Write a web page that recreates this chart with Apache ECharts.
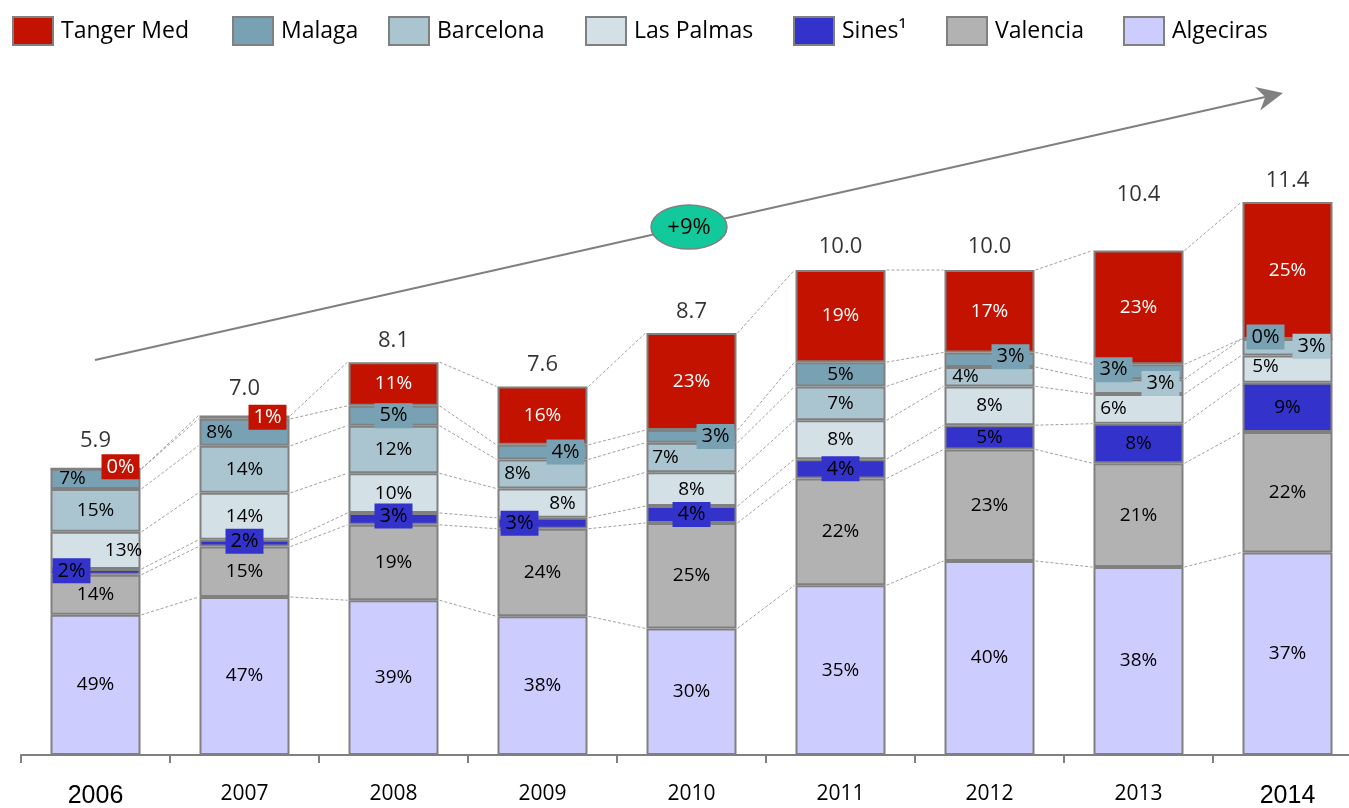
<!DOCTYPE html>
<html><head><meta charset="utf-8">
<script src="https://cdn.jsdelivr.net/npm/echarts@6/dist/echarts.min.js"></script>
<style>html,body{margin:0;padding:0;background:#fff}#c{width:1349px;height:808px}</style>
</head><body><div id="c"></div>
<script>
// ---- data ----
const years = ['2006','2007','2008','2009','2010','2011','2012','2013','2014'];
const totals = [5.9, 7.0, 8.1, 7.6, 8.7, 10.0, 10.0, 10.4, 11.4];
// share of each port in % (stack order bottom -> top)
const algeciras = [49, 47, 39, 38, 30, 35, 40, 38, 37];
const valencia  = [14, 15, 19, 24, 25, 22, 23, 21, 22];
const sines     = [2, 2, 3, 3, 4, 4, 5, 8, 9];
const lasPalmas = [13, 14, 10, 8, 8, 8, 8, 6, 5];
const barcelona = [15, 14, 12, 8, 7, 7, 4, 3, 3];
const malaga    = [7, 8, 5, 4, 3, 5, 3, 3, 0];
const tangerMed = [0, 1, 11, 16, 23, 19, 17, 23, 25];
const legendOrder = ['Tanger Med', 'Malaga', 'Barcelona', 'Las Palmas', 'Sines¹', 'Valencia', 'Algeciras'];
const cagrLabel = '+9%';

// ---- styling (not data) ----
const seriesDefs = [
  {name:'Algeciras',  data:algeciras, color:'#CCCCFF', text:'#000'},
  {name:'Valencia',   data:valencia,  color:'#B2B2B2', text:'#000'},
  {name:'Sines¹',     data:sines,     color:'#3333CC', text:'#000'},
  {name:'Las Palmas', data:lasPalmas, color:'#D3E0E6', text:'#000'},
  {name:'Barcelona',  data:barcelona, color:'#AAC5CF', text:'#000'},
  {name:'Malaga',     data:malaga,    color:'#78A2B4', text:'#000'},
  {name:'Tanger Med', data:tangerMed, color:'#C41200', text:'#fff'}
];
const legendLeft = [12, 232, 388, 585, 793, 946, 1123];
const totalLabelDy = [-7, -5, 0, 0, 0, -2, -2, -34, 0];
// label placement tweaks per series/year: [dx, dy, boxed]
const labelTweaks = {
  'Sines¹':     [[-24,-1,1],[0,-2,1],[0,-3,1],[-23,0,1],[0,0,1],[0,0,1],null,null,null],
  'Las Palmas': [[28,0,0],null,null,[20,0,0],null,null,null,[-25,0,0],[-22,-2,0]],
  'Barcelona':  [null,null,null,[-25,0,0],[-26,0,0],null,[-24,0,0],[22,-3,1],[24,-1,1]],
  'Malaga':     [[-23,0,0],[-25,0,0],[0,0,1],[23,0,1],[24,0,1],null,[21,-3,1],[-25,-2,1],[-22,-2,1]],
  'Tanger Med': [[25,-2,1],[23,0,1],null,null,null,null,null,null,null]
};
const BAR_W = 90;
const FONT = '"Open Sans", sans-serif';

const sums = years.map((_, i) => seriesDefs.reduce((s, d) => s + d.data[i], 0));
const absVal = (d, i) => totals[i] * d.data[i] / sums[i];

const barSeries = seriesDefs.map(def => ({
  name: def.name, type: 'bar', stack: 'all', barWidth: BAR_W,
  itemStyle: {color: def.color, borderColor: '#808080', borderWidth: 2},
  emphasis: {disabled: true},
  z: 3,
  data: def.data.map((p, i) => {
    const t = (labelTweaks[def.name] || [])[i];
    const label = {show: true, position: 'inside', formatter: p + '%',
      color: def.text, fontFamily: FONT, fontSize: 19};
    if (t) {
      label.offset = [t[0], t[1]];
      if (t[2]) { label.backgroundColor = def.color; label.padding = [3, 5, 2, 5]; label.fontSize = 20; }
    }
    return {value: absVal(def, i), label: label};
  })
}));

// connector data: boundaries between adjacent bars
const cum = years.map((_, i) => { let c = 0; return seriesDefs.map(d => (c += absVal(d, i))); });
const connData = [];
for (let i = 0; i < years.length - 1; i++)
  for (let k = 0; k < seriesDefs.length; k++) connData.push([i, cum[i][k], cum[i + 1][k]]);

const connectors = {
  type: 'custom', name: 'conn', z: 1, silent: true, data: connData,
  encode: {x: 0, y: 1},
  renderItem: (params, api) => {
    const a = api.coord([api.value(0), api.value(1)]);
    const b = api.coord([api.value(0) + 1, api.value(2)]);
    return {type: 'line', shape: {x1: a[0] + BAR_W / 2 + 1, y1: a[1], x2: b[0] - BAR_W / 2 - 1, y2: b[1]},
      style: {stroke: '#A0A0A0', lineWidth: 1, lineDash: [3, 2]}};
  }
};

const totalSeries = {
  type: 'scatter', name: 'total', symbolSize: 1, itemStyle: {color: 'transparent'}, silent: true, z: 5,
  data: totals.map((v, i) => ({value: v, label: {offset: [0, totalLabelDy[i]]}})),
  label: {show: true, position: 'top', distance: 10, color: '#000', fontFamily: FONT, fontSize: 22,
    formatter: p => p.value.toFixed(1)}
};

const legends = legendOrder.map((n, j) => ({
  data: [n], left: legendLeft[j], top: 16, padding: 0, itemWidth: 40, itemHeight: 28, icon: 'rect',
  selectedMode: false,
  textStyle: {fontFamily: FONT, fontSize: 23, color: '#000', padding: [0, 0, 0, 3]}
}));

const chart = echarts.init(document.getElementById('c'));
// arrow geometry (annotation)
const A0 = [95, 360], A1 = [1283, 93];
const dx = A1[0] - A0[0], dy = A1[1] - A0[1], L = Math.hypot(dx, dy), ux = dx / L, uy = dy / L;
const HL = 26, HW = 12;
const base = [A1[0] - ux * HL, A1[1] - uy * HL];
const notch = [A1[0] - ux * HL * 0.7, A1[1] - uy * HL * 0.7];

chart.setOption({
  animation: false,
  backgroundColor: '#fff',
  legend: legends,
  grid: {left: 21, right: -13, top: 173, bottom: 53, outerBoundsMode: 'none', containLabel: false},
  xAxis: {
    type: 'category', data: years,
    axisLine: {lineStyle: {color: '#808080', width: 2}},
    axisTick: {show: true, length: 8, lineStyle: {color: '#808080', width: 2}},
    axisLabel: {margin: 29, color: '#000',
      formatter: (v, i) => (i === 0 || i === years.length - 1) ? '{b|' + v + '}' : '{a|' + v + '}',
      rich: {a: {fontFamily: FONT, fontSize: 21, color: '#000'},
             b: {fontFamily: '"Liberation Sans", Arial, sans-serif', fontSize: 25, color: '#000'}}}
  },
  yAxis: {type: 'value', min: 0, max: 12, show: false, splitLine: {show: false}},
  series: [connectors, ...barSeries, totalSeries],
  graphic: [
    {type: 'line', shape: {x1: A0[0], y1: A0[1], x2: notch[0], y2: notch[1]}, style: {stroke: '#808080', lineWidth: 2}, z: 10},
    {type: 'polygon', shape: {points: [A1, [base[0] + uy * HW, base[1] - ux * HW], notch, [base[0] - uy * HW, base[1] + ux * HW]]},
      style: {fill: '#808080'}, z: 10},
    {type: 'ellipse', shape: {cx: 689, cy: 227, rx: 38, ry: 22}, style: {fill: '#11C99A', stroke: '#808080', lineWidth: 1.5}, z: 11},
    {type: 'text', x: 689, y: 228, style: {text: cagrLabel, fill: '#000', font: '22px "Open Sans", sans-serif', align: 'center', verticalAlign: 'middle'}, z: 12}
  ]
});
</script></body></html>
